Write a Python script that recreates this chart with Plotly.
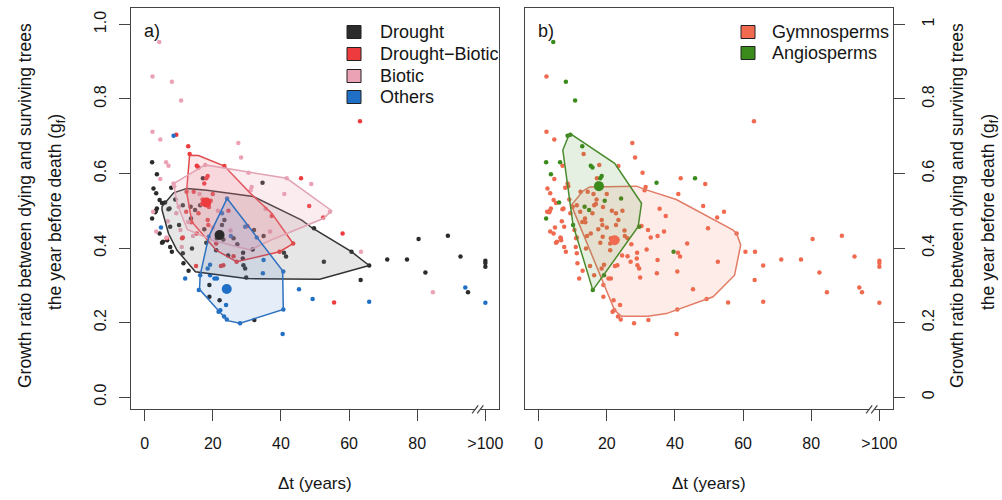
import plotly.graph_objects as go

# ---------------- data ----------------
# Drought
dt_drought = [2.2, 3.6, 17.1, 34.6, 7.8, 3.4, 4.4, 5.1, 3.6, 3.3, 3.1, 2.2, 7.3, 6.0, 11.2, 16.3, 13.6, 10.1,
              7.5, 5.4, 6.6, 7.5, 13.9, 22.7, 23.4, 26.1, 32.1, 34.9, 21.0, 28.8, 29.5, 29.0, 29.8, 11.4, 19.0,
              19.0, 22.0, 32.2, 40.9, 41.5, 49.7, 52.6, 60.7, 65.9, 63.4, 71.2, 77.0, 80.4, 89.0, 82.4, 92.7,
              94.9, 100, 100, 100, 13.5, 14.8, 31.7, 28.9, 7.0, 12.9, 11.2, 4.4, 5.1, 18.1, 23.1, 21.2, 27.2,
              2.6, 9.0, 8.0, 17.5, 24.5]
gf_drought = [0.630, 0.598, 0.587, 0.575, 0.562, 0.547, 0.529, 0.521, 0.506, 0.500, 0.496, 0.479, 0.506, 0.522,
              0.515, 0.515, 0.479, 0.462, 0.457, 0.417, 0.421, 0.403, 0.399, 0.462, 0.475, 0.426, 0.448, 0.432,
              0.394, 0.372, 0.345, 0.354, 0.321, 0.359, 0.301, 0.269, 0.260, 0.207, 0.387, 0.377, 0.453, 0.363,
              0.390, 0.353, 0.314, 0.369, 0.369, 0.424, 0.433, 0.334, 0.377, 0.281, 0.366, 0.360, 0.350, 0.511,
              0.502, 0.396, 0.387, 0.504, 0.339, 0.386, 0.439, 0.414, 0.414, 0.423, 0.426, 0.410,
              0.560, 0.530, 0.390, 0.450, 0.380]
clade_drought = ["A", "A", "G", "A", "G", "G", "G", "G", "G", "G", "G", "A", "G", "A", "G", "G", "G", "A",
                 "G", "G", "G", "G", "G", "G", "G", "G", "G", "G", "G", "G", "G", "G", "G", "G", "G",
                 "G", "G", "G", "G", "G", "G", "G", "G", "G", "G", "G", "G", "G", "G", "G", "G",
                 "G", "G", "G", "G", "A", "A", "G", "G", "G", "G", "G", "G", "G", "G", "G", "G", "G",
                 "G", "G", "G", "G", "G"]

# Drought-Biotic
dt_dbiotic = [63.2, 9.3, 12.8, 13.2, 15.3, 15.8, 23.4, 18.5, 18.1, 45.9, 12.2, 14.4, 15.8, 18.5, 11.0, 15.3,
              30.2, 21.0, 26.1, 15.1, 23.1, 37.3, 39.6, 43.6, 52.4, 58.1, 55.6, 19.4, 24.6, 22.4, 27.0, 6.5,
              11.2, 13.7, 18.7, 16.8, 17.5, 20.0, 17.0, 18.9, 12.3, 48.3]
gf_dbiotic = [0.740, 0.704, 0.673, 0.652, 0.621, 0.616, 0.620, 0.593, 0.587, 0.587, 0.497, 0.551, 0.493, 0.475,
              0.426, 0.439, 0.459, 0.412, 0.378, 0.352, 0.354, 0.486, 0.390, 0.412, 0.482, 0.439, 0.254, 0.527,
              0.500, 0.352, 0.363, 0.426, 0.428, 0.469, 0.462, 0.518, 0.573, 0.545, 0.530, 0.510, 0.551, 0.513]
clade_dbiotic = ["G", "A", "A", "G", "A", "A", "G", "A", "A", "A", "G", "G", "G", "G", "G", "G",
                 "G", "G", "G", "G", "G", "G", "A", "G", "G", "G", "G", "A", "G", "G", "G", "G",
                 "G", "G", "G", "G", "G", "G", "G", "G", "G", "G"]

# Biotic
dt_biotic = [4.3, 2.3, 8.0, 10.7, 2.3, 4.6, 27.5, 28.3, 6.3, 7.0, 4.6, 48.9, 30.5, 31.4, 31.1, 8.7, 2.5, 10.0,
             16.1, 10.5, 3.4, 6.4, 36.8, 54.4, 63.5, 84.6, 9.3, 14.2, 10.9, 20.0, 25.2, 35.5, 41.0, 8.5, 17.8,
             41.7, 6.8, 21.5, 12.8]
gf_biotic = [0.953, 0.860, 0.846, 0.796, 0.712, 0.691, 0.682, 0.643, 0.630, 0.621, 0.585, 0.572, 0.602, 0.564,
             0.555, 0.566, 0.497, 0.511, 0.545, 0.448, 0.444, 0.428, 0.444, 0.497, 0.390, 0.281, 0.493, 0.432,
             0.403, 0.455, 0.447, 0.505, 0.545, 0.573, 0.623, 0.587, 0.472, 0.500, 0.470]
clade_biotic = ["A", "G", "A", "A", "G", "G", "G", "G", "A", "G", "G", "G", "G", "G", "G", "G", "G", "G",
                "G", "G", "G", "G", "G", "G", "G", "G", "G", "G", "G", "G", "G", "G", "G", "G", "G",
                "G", "G", "G", "G"]

# Others
dt_others = [8.5, 4.8, 22.7, 25.3, 29.5, 32.9, 18.5, 19.2, 20.5, 21.2, 11.9, 34.9, 34.7, 15.9, 23.9, 21.7, 22.2,
             23.3, 24.1, 28.0, 40.5, 40.7, 45.3, 49.3, 65.9, 94.1, 100, 24.2, 19.2, 16.3, 18.8, 40.7]
gf_others = [0.701, 0.455, 0.493, 0.432, 0.457, 0.428, 0.345, 0.327, 0.318, 0.318, 0.318, 0.368, 0.332, 0.287,
             0.247, 0.229, 0.233, 0.216, 0.208, 0.198, 0.169, 0.337, 0.289, 0.263, 0.256, 0.294, 0.253, 0.533,
             0.355, 0.327, 0.430, 0.235]
clade_others = ["A", "G", "G", "G", "A", "G", "G", "A", "G", "G", "G", "G", "G", "A", "G", "G", "G",
                "G", "G", "G", "G", "G", "G", "G", "G", "G", "G", "A", "G", "G", "G", "G"]

# Hull outlines (vertices)
hull_drought_dt = [12.4, 18.3, 31.9, 46.1, 49.3, 60.7, 65.9, 51.4, 29.8, 14.9, 9.5, 7.0, 5.1, 5.1, 8.5, 12.4]
hull_drought_gf = [0.560, 0.555, 0.538, 0.475, 0.453, 0.390, 0.353, 0.316, 0.318, 0.336, 0.394, 0.439, 0.502,
                   0.511, 0.548, 0.560]
hull_dbiotic_dt = [13.2, 15.8, 23.4, 30.9, 37.3, 43.6, 39.6, 27.0, 21.0, 13.9, 12.3, 13.2]
hull_dbiotic_gf = [0.649, 0.648, 0.620, 0.548, 0.493, 0.412, 0.390, 0.363, 0.394, 0.470, 0.551, 0.649]
hull_biotic_dt = [8.5, 17.8, 41.7, 54.9, 52.4, 36.8, 31.0, 20.0, 12.5, 9.5, 8.5]
hull_biotic_gf = [0.573, 0.623, 0.587, 0.500, 0.479, 0.420, 0.395, 0.420, 0.450, 0.520, 0.573]
hull_others_dt = [24.2, 40.5, 40.7, 28.0, 24.3, 16.1, 16.3, 18.8, 24.2]
hull_others_gf = [0.533, 0.339, 0.235, 0.198, 0.205, 0.289, 0.327, 0.430, 0.533]
hull_gymno_dt = [9.6, 13.0, 15.0, 28.7, 31.6, 40.4, 57.1, 58.1, 59.3, 57.5, 51.2, 49.4, 37.5, 32.1, 24.3, 22.3, 9.6]
hull_gymno_gf = [0.515, 0.553, 0.564, 0.566, 0.556, 0.530, 0.448, 0.439, 0.408, 0.327, 0.269, 0.263, 0.224,
                 0.217, 0.217, 0.233, 0.515]
hull_angio_dt = [8.9, 9.6, 22.3, 30.2, 29.2, 19.2, 15.9, 10.1, 7.1, 8.9]
hull_angio_gf = [0.703, 0.705, 0.627, 0.520, 0.457, 0.327, 0.287, 0.462, 0.663, 0.703]

# Group centres (large dots)
centre_a_dt = [22.0, 18.1, 24.1]
centre_a_gf = [0.435, 0.522, 0.290]
centre_b_dt = [22.3, 17.7]
centre_b_gf = [0.421, 0.566]

legend_a_labels = ["Drought", "Drought\u2212Biotic", "Biotic", "Others"]
legend_b_labels = ["Gymnosperms", "Angiosperms"]

x_tickvals = [0, 20, 40, 60, 80, 100]
x_ticktext = ["0", "20", "40", "60", "80", ">100"]
y_tickvals = [0, 0.2, 0.4, 0.6, 0.8, 1.0]
y_ticktext_a = ["0.0", "0.2", "0.4", "0.6", "0.8", "1.0"]
y_ticktext_b = ["0", "0.2", "0.4", "0.6", "0.8", "1"]

# ---------------- styling ----------------
FONT = "Liberation Sans, Arial, sans-serif"
TXT = "#151515"
C_DROUGHT = "#2b2b2b"
C_DBIOTIC = "#ee3b3e"
C_BIOTIC = "#eba2b5"
C_OTHERS = "#1f6fc6"
C_GYMNO = "#ef6a4f"
C_ANGIO = "#3b8a1c"
AXC = "#444444"

W, H = 1002, 500
ML, MR, MT, MB = 131, 109, 8, 91
PW = W - ML - MR
PH = H - MT - MB


def px_x(p):
    return (p - ML) / PW


def px_y(p):
    return (H - MB - p) / PH


fig = go.Figure()

groups_a = [
    (dt_drought, gf_drought, C_DROUGHT, hull_drought_dt, hull_drought_gf, "rgba(140,140,140,0.22)", "#333333"),
    (dt_dbiotic, gf_dbiotic, C_DBIOTIC, hull_dbiotic_dt, hull_dbiotic_gf, "rgba(238,59,62,0.12)", "#e0494c"),
    (dt_biotic, gf_biotic, C_BIOTIC, hull_biotic_dt, hull_biotic_gf, "rgba(235,162,181,0.20)", "#e2a3b3"),
    (dt_others, gf_others, C_OTHERS, hull_others_dt, hull_others_gf, "rgba(31,111,198,0.12)", "#2f72c0"),
]

for xs, ys, col, *_ in groups_a:
    fig.add_trace(go.Scatter(x=xs, y=ys, mode="markers", xaxis="x", yaxis="y",
                             marker=dict(size=4.5, color=col, line=dict(width=0)),
                             showlegend=False, hoverinfo="skip"))
for xs, ys, col, hx, hy, fillc, linec in groups_a:
    fig.add_trace(go.Scatter(x=hx, y=hy, mode="lines", fill="toself", fillcolor=fillc,
                             line=dict(color=linec, width=1.5), xaxis="x", yaxis="y",
                             showlegend=False, hoverinfo="skip"))
fig.add_trace(go.Scatter(x=centre_a_dt, y=centre_a_gf, mode="markers", xaxis="x", yaxis="y",
                         marker=dict(size=10, color=[C_DROUGHT, C_DBIOTIC, C_OTHERS], line=dict(width=0)),
                         showlegend=False, hoverinfo="skip"))

all_dt = dt_drought + dt_dbiotic + dt_biotic + dt_others
all_gf = gf_drought + gf_dbiotic + gf_biotic + gf_others
all_clade = clade_drought + clade_dbiotic + clade_biotic + clade_others
gx = [x for x, c in zip(all_dt, all_clade) if c == "G"]
gy = [y for y, c in zip(all_gf, all_clade) if c == "G"]
ax_ = [x for x, c in zip(all_dt, all_clade) if c == "A"]
ay_ = [y for y, c in zip(all_gf, all_clade) if c == "A"]
fig.add_trace(go.Scatter(x=gx, y=gy, mode="markers", xaxis="x2", yaxis="y2",
                         marker=dict(size=4.5, color=C_GYMNO, line=dict(width=0)),
                         showlegend=False, hoverinfo="skip"))
fig.add_trace(go.Scatter(x=ax_, y=ay_, mode="markers", xaxis="x2", yaxis="y2",
                         marker=dict(size=4.5, color=C_ANGIO, line=dict(width=0)),
                         showlegend=False, hoverinfo="skip"))
fig.add_trace(go.Scatter(x=hull_gymno_dt, y=hull_gymno_gf, mode="lines", fill="toself",
                         fillcolor="rgba(239,106,79,0.13)", line=dict(color="#e27c66", width=1.5),
                         xaxis="x2", yaxis="y2", showlegend=False, hoverinfo="skip"))
fig.add_trace(go.Scatter(x=hull_angio_dt, y=hull_angio_gf, mode="lines", fill="toself",
                         fillcolor="rgba(59,138,28,0.13)", line=dict(color="#4a8b2c", width=1.5),
                         xaxis="x2", yaxis="y2", showlegend=False, hoverinfo="skip"))
fig.add_trace(go.Scatter(x=centre_b_dt, y=centre_b_gf, mode="markers", xaxis="x2", yaxis="y2",
                         marker=dict(size=10, color=[C_GYMNO, C_ANGIO], line=dict(width=0)),
                         showlegend=False, hoverinfo="skip"))

xa_common = dict(range=[-4, 104], tickvals=x_tickvals, ticktext=x_ticktext, ticks="outside", ticklen=11,
                 tickcolor=AXC, tickwidth=1.2, showline=True, linecolor=AXC, linewidth=1.3, mirror=True,
                 showgrid=False, zeroline=False, tickfont=dict(size=16, family=FONT, color=TXT),
                 ticklabelstandoff=9, fixedrange=True, automargin=False)
ya_common = dict(range=[-0.032, 1.044], tickvals=y_tickvals, ticks="outside", ticklen=11,
                 tickcolor=AXC, tickwidth=1.2, showline=True, linecolor=AXC, linewidth=1.3, mirror=True,
                 showgrid=False, zeroline=False, tickfont=dict(size=16, family=FONT, color=TXT),
                 tickangle=-90, fixedrange=True, automargin=False)

fig.update_layout(
    width=W, height=H, margin=dict(l=ML, r=MR, t=MT, b=MB, autoexpand=False),
    paper_bgcolor="white", plot_bgcolor="white",
    font=dict(family=FONT, color=TXT),
    showlegend=False,
    xaxis=dict(domain=[0, px_x(499)], anchor="y", **xa_common),
    yaxis=dict(domain=[0, 1], anchor="x", ticktext=y_ticktext_a, side="left", ticklabelstandoff=6, **ya_common),
    xaxis2=dict(domain=[px_x(525), 1], anchor="y2", **xa_common),
    yaxis2=dict(domain=[0, 1], anchor="x2", ticktext=y_ticktext_b, side="right", ticklabelstandoff=10, **ya_common),
)

annos = []
shapes = []
# axis titles (two lines each, rotated)
for cx1, cx2 in [(25, 56), (957, 989)]:
    annos.append(dict(text="Growth ratio between dying and surviving trees", x=px_x(cx1), y=px_y(206),
                      xref="paper", yref="paper", textangle=-90, showarrow=False,
                      font=dict(size=17.5, family=FONT, color=TXT), xanchor="center", yanchor="middle"))
    annos.append(dict(text="the year before death (g<sub>f</sub>)", x=px_x(cx2), y=px_y(212),
                      xref="paper", yref="paper", textangle=-90, showarrow=False,
                      font=dict(size=17.5, family=FONT, color=TXT), xanchor="center", yanchor="middle"))
for cx in [315, 709]:
    annos.append(dict(text="\u0394t (years)", x=px_x(cx), y=px_y(483), xref="paper", yref="paper",
                      showarrow=False, font=dict(size=17, family=FONT, color=TXT),
                      xanchor="center", yanchor="middle"))
for lab, lx in [("a)", 142), ("b)", 536)]:
    annos.append(dict(text=lab, x=px_x(lx), y=px_y(31), xref="paper", yref="paper", showarrow=False,
                      font=dict(size=18, family=FONT, color=TXT), xanchor="left", yanchor="middle"))

# legends: square keys + labels
legend_specs = [
    (legend_a_labels, [C_DROUGHT, C_DBIOTIC, C_BIOTIC, C_OTHERS], 347, 378, [32, 54, 76, 97]),
    (legend_b_labels, [C_GYMNO, C_ANGIO], 741, 770, [32, 53]),
]
for labels, cols, sqx, tx, rows in legend_specs:
    for lab, col, ry in zip(labels, cols, rows):
        shapes.append(dict(type="rect", xref="paper", yref="paper",
                           x0=px_x(sqx), x1=px_x(sqx + 14), y0=px_y(ry - 6.5), y1=px_y(ry + 6.5),
                           fillcolor=col, line=dict(color="#222222", width=1), layer="above"))
        annos.append(dict(text=lab, x=px_x(tx), y=px_y(ry), xref="paper", yref="paper", showarrow=False,
                          font=dict(size=18, family=FONT, color=TXT), xanchor="left", yanchor="middle"))

# axis-break marks near ">100"
for xr, yr in [("x", "y domain"), ("x2", "y2 domain")]:
    shapes.append(dict(type="line", xref=xr, yref=yr, x0=97.1, x1=98.6, y0=0, y1=0,
                       line=dict(color="white", width=3), layer="above"))
    shapes.append(dict(type="line", xref=xr, yref=yr, x0=96.1, x1=97.9, y0=-0.011, y1=0.009,
                       line=dict(color=AXC, width=1.2), layer="above"))
    shapes.append(dict(type="line", xref=xr, yref=yr, x0=97.6, x1=99.4, y0=-0.011, y1=0.009,
                       line=dict(color=AXC, width=1.2), layer="above"))

fig.update_layout(annotations=annos, shapes=shapes)

fig.write_html("out.html", config={"displayModeBar": False},
               post_script="document.body.style.margin='0';document.body.style.overflow='hidden';")
